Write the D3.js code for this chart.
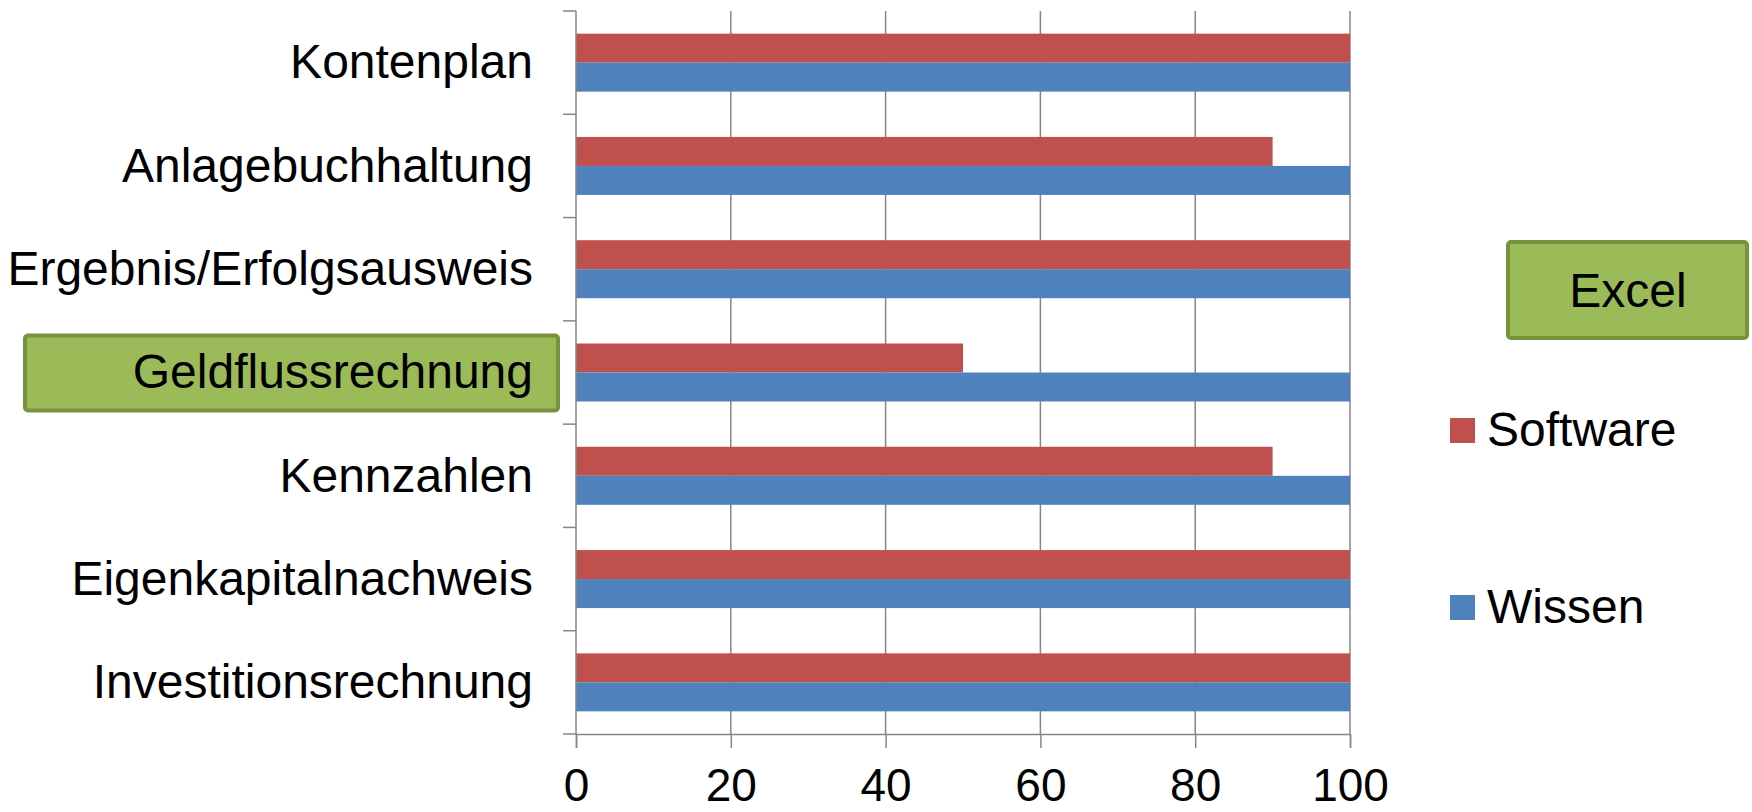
<!DOCTYPE html>
<html>
<head>
<meta charset="utf-8">
<script src="https://cdn.jsdelivr.net/npm/d3@7"></script>
<style>
  html, body { margin: 0; padding: 0; background: #fff; }
  svg { display: block; font-family: "Liberation Sans", Arial, sans-serif; }
</style>
</head>
<body>
<svg id="chart" width="1752" height="812"></svg>
<script>
const categories = ["Kontenplan", "Anlagebuchhaltung", "Ergebnis/Erfolgsausweis", "Geldflussrechnung", "Kennzahlen", "Eigenkapitalnachweis", "Investitionsrechnung"];
const software = [100, 90, 100, 50, 90, 100, 100];
const wissen = [100, 100, 100, 100, 100, 100, 100];
const xTicks = [0, 20, 40, 60, 80, 100];
const seriesNames = ["Software", "Wissen"];
const seriesColors = ["#C0504D", "#4F81BD"];
const highlighted = "Geldflussrechnung";
const boxLabel = "Excel";

(function () {
const svg = d3.select("#chart");
const pLeft = 576, pRight = 1350, pTop = 11, pBottom = 734;
const x = d3.scaleLinear().domain([0, 100]).range([pLeft, pRight]);
const y = d3.scaleBand().domain(categories).range([pTop, pBottom]);
const barH = 29;
const gridColor = "#868686";

// gridlines
svg.append("g").selectAll("line").data(xTicks.filter(d => d > 0)).join("line")
  .attr("x1", d => x(d)).attr("x2", d => x(d))
  .attr("y1", pTop).attr("y2", pBottom)
  .attr("stroke", gridColor).attr("stroke-width", 1.5);

// bars
const bars = svg.append("g");
categories.forEach((c, i) => {
  bars.append("rect")
    .attr("x", x(0)).attr("y", y(c) + y.bandwidth() / 2 - barH)
    .attr("width", x(software[i]) - x(0)).attr("height", barH)
    .attr("fill", seriesColors[0]);
  bars.append("rect")
    .attr("x", x(0)).attr("y", y(c) + y.bandwidth() / 2)
    .attr("width", x(wissen[i]) - x(0)).attr("height", barH)
    .attr("fill", seriesColors[1]);
});

// x axis
const xAxis = svg.append("g")
  .attr("transform", `translate(0,${pBottom})`)
  .call(d3.axisBottom(x).tickValues(xTicks).tickSize(14).tickPadding(20).tickFormat(d3.format("d")));
xAxis.select(".domain").attr("stroke", gridColor).attr("stroke-width", 1.5);
xAxis.selectAll(".tick line").attr("stroke", gridColor).attr("stroke-width", 1.5);
xAxis.selectAll(".tick text")
  .attr("font-size", 46).attr("fill", "#000")
  .attr("font-family", "'Liberation Sans', Arial, sans-serif");

// y axis line and boundary ticks
svg.append("line")
  .attr("x1", pLeft).attr("x2", pLeft).attr("y1", pTop).attr("y2", pBottom)
  .attr("stroke", gridColor).attr("stroke-width", 1.5);
const bounds = categories.map(c => y(c)).concat([y.range()[1]]);
svg.append("g").selectAll("line").data(bounds).join("line")
  .attr("x1", pLeft - 13).attr("x2", pLeft)
  .attr("y1", d => d).attr("y2", d => d)
  .attr("stroke", gridColor).attr("stroke-width", 1.5);

// highlight box for category
const hy = y(highlighted) + y.bandwidth() / 2;
svg.append("rect")
  .attr("x", 25).attr("y", hy - 37).attr("width", 533).attr("height", 75)
  .attr("rx", 3).attr("fill", "#9BBB59").attr("stroke", "#77933C").attr("stroke-width", 4);

// category labels
svg.append("g").selectAll("text").data(categories).join("text")
  .attr("x", 533).attr("y", d => y(d) + y.bandwidth() / 2)
  .attr("dy", "0.33em")
  .attr("text-anchor", "end")
  .attr("font-size", 48).attr("fill", "#000")
  .text(d => d);

// Excel box
svg.append("rect")
  .attr("x", 1508).attr("y", 242).attr("width", 239).attr("height", 96)
  .attr("rx", 3).attr("fill", "#9BBB59").attr("stroke", "#77933C").attr("stroke-width", 4);
svg.append("text")
  .attr("x", 1628).attr("y", 307).attr("text-anchor", "middle")
  .attr("font-size", 48).attr("fill", "#000").text(boxLabel);

// legend
const legendY = [430, 607];
const lg = svg.append("g");
seriesNames.forEach((s, i) => {
  lg.append("rect").attr("x", 1450).attr("y", legendY[i] - 12).attr("width", 25).attr("height", 25)
    .attr("fill", seriesColors[i]);
  lg.append("text").attr("x", 1487).attr("y", legendY[i] + 16)
    .attr("font-size", 48).attr("fill", "#000").text(s);
});
})();
</script>
</body>
</html>
